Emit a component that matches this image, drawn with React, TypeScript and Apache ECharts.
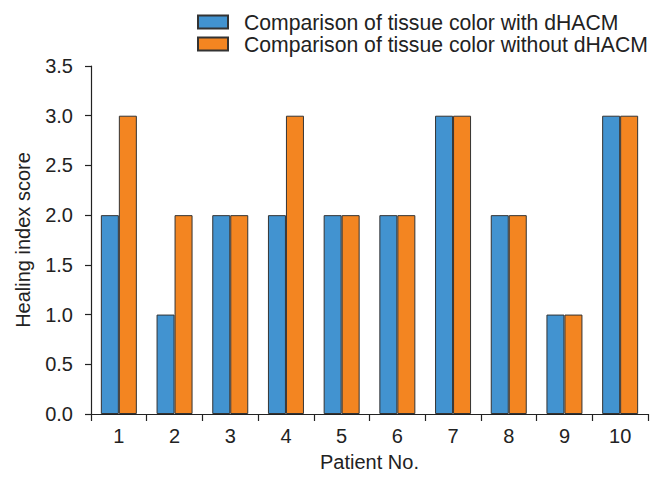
import React, { useEffect, useRef } from "react";
import * as echarts from "echarts";

const categories = ["1", "2", "3", "4", "5", "6", "7", "8", "9", "10"];
const withDHACM = [2, 1, 2, 2, 2, 2, 3, 2, 1, 3];
const withoutDHACM = [3, 2, 2, 3, 2, 2, 3, 2, 1, 3];
const seriesNames = [
  "Comparison of tissue color with dHACM",
  "Comparison of tissue color without dHACM",
];

export default function App() {
  const ref = useRef<HTMLDivElement>(null);
  useEffect(() => {
    if (!ref.current) return;
    const chart = echarts.init(ref.current, undefined, { renderer: "svg" });
    const font = "Liberation Sans, Arial, sans-serif";
    chart.setOption({
      animation: false,
      textStyle: { fontFamily: font },
      legend: {
        orient: "vertical",
        left: 197,
        top: 11,
        padding: 0,
        itemWidth: 30,
        itemHeight: 13,
        itemGap: 0,
        icon: "rect",
        selectedMode: false,
        textStyle: {
          fontSize: 21.2,
          lineHeight: 22,
          color: "#222",
          fontFamily: font,
          padding: [0, 0, 0, 11],
        },
        data: seriesNames,
      },
      grid: { left: 91, right: 2, top: 66, bottom: 59 },
      xAxis: {
        type: "category",
        data: categories,
        name: "Patient No.",
        nameLocation: "middle",
        nameGap: 38,
        nameTextStyle: { fontSize: 20, color: "#222", fontFamily: font },
        axisLine: { lineStyle: { color: "#222", width: 1.2 } },
        axisTick: { show: true, length: 7, lineStyle: { color: "#222", width: 1.2 }, alignWithLabel: false },
        axisLabel: { fontSize: 20, color: "#222", margin: 12, fontFamily: font },
      },
      yAxis: {
        type: "value",
        min: 0,
        max: 3.5,
        interval: 0.5,
        name: "Healing index score",
        nameLocation: "middle",
        nameGap: 58,
        nameTextStyle: { fontSize: 20, color: "#222", fontFamily: font },
        axisLine: { show: true, lineStyle: { color: "#222", width: 1.2 } },
        axisTick: { show: true, length: 6, lineStyle: { color: "#222", width: 1.2 } },
        axisLabel: {
          fontSize: 20,
          color: "#222",
          margin: 18,
          fontFamily: font,
          formatter: (v: number) => v.toFixed(1),
        },
        splitLine: { show: false },
      },
      series: [
        {
          name: seriesNames[0],
          type: "bar",
          data: withDHACM,
          barWidth: 18,
          barGap: "0%",
          itemStyle: { color: "#4293d0", borderColor: "#333", borderWidth: 1 },
        },
        {
          name: seriesNames[1],
          type: "bar",
          data: withoutDHACM,
          barWidth: 18,
          barGap: "0%",
          itemStyle: { color: "#f38521", borderColor: "#333", borderWidth: 1 },
        },
      ],
    });
    return () => chart.dispose();
  }, []);
  return <div ref={ref} style={{ width: 650, height: 477, position: "absolute", left: 0, top: 0 }} />;
}
